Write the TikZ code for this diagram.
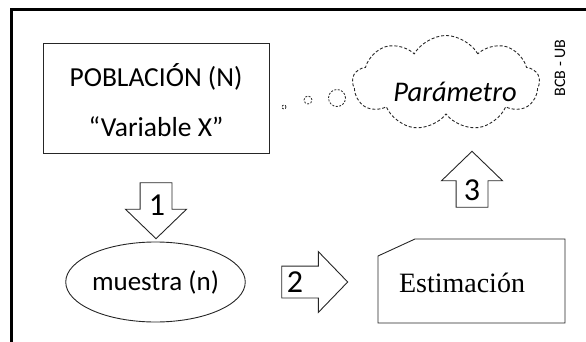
\documentclass[tikz,border=0pt]{standalone}
\usepackage{fontspec}
\setmainfont{Carlito}
\newfontfamily\estfont{Liberation Serif}
\usetikzlibrary{shapes.geometric,shapes.symbols,shapes.arrows}
\newcommand{\fsz}[2]{\fontsize{#1pt}{#2pt}\selectfont}

\begin{document}
\begin{tikzpicture}[x=1pt,y=-1pt,
    shapeline/.style={draw=black!85, line width=0.9pt},
    blockarrow/.style={single arrow, shapeline, inner xsep=0pt, inner ysep=15.5pt, single arrow head extend=14.5pt, single arrow tip angle=92},
    bubble/.style={circle, draw=black!85, line width=0.8pt, dash pattern=on 2pt off 1.5pt, inner sep=0pt},
    numtxt/.style={font=\fsz{32}{36}, inner sep=0pt}]
    \useasboundingbox (0,0) rectangle (586,342);
    \draw[line width=3pt] (11,342) -- (11,10) -- (586,10);

    \node[rectangle, shapeline, minimum width=226pt, minimum height=110pt] (pob) at (156,98) {};
    \node[align=center, font=\fsz{27.5}{50}, inner sep=0pt] (pobtxt) at (156,100) {POBLACIÓN (N)\\“Variable X”};

    \node[bubble, minimum size=4pt] (bub1) at (284,107) {};
    \node[bubble, minimum size=8pt] (bub2) at (308,100) {};
    \node[bubble, minimum size=17pt] (bub3) at (337,98) {};
    \node[cloud, shapeline, dash pattern=on 3pt off 2pt, cloud puffs=9, cloud puff arc=120, aspect=2, minimum width=187pt, minimum height=95pt, inner sep=0pt] (cloud) at (446,83) {};
    \node[font=\fsz{28.5}{32}\itshape, inner sep=0pt] (param) at (455,92) {Parámetro};
    \node[font=\fsz{16}{18}, rotate=90, inner sep=0pt] (bcb) at (560,68) {BCB - UB};

    \node[blockarrow, minimum height=56pt, rotate=-90] (arr1) at (156,203) {};
    \node[numtxt] (num1) at (157,205) {1};

    \node[ellipse, shapeline, minimum width=175pt, minimum height=80pt, inner sep=0pt, font=\fsz{27}{30}] (muestra) at (155.5,282) {muestra (n)};

    \node[blockarrow, minimum height=66pt] (arr2) at (307,282) {};
    \node[numtxt] (num2) at (295,282) {2};

    \draw[shapeline] (378,256) -- (415,239) -- (565,239) -- (565,323) -- (378,323) -- cycle;
    \node[font=\estfont\fsz{28}{30}, inner sep=0pt] (est) at (462,283) {Estimación};

    \node[blockarrow, minimum height=56pt, rotate=90] (arr3) at (472,187) {};
    \node[numtxt] (num3) at (472,190) {3};
\end{tikzpicture}
\end{document}
